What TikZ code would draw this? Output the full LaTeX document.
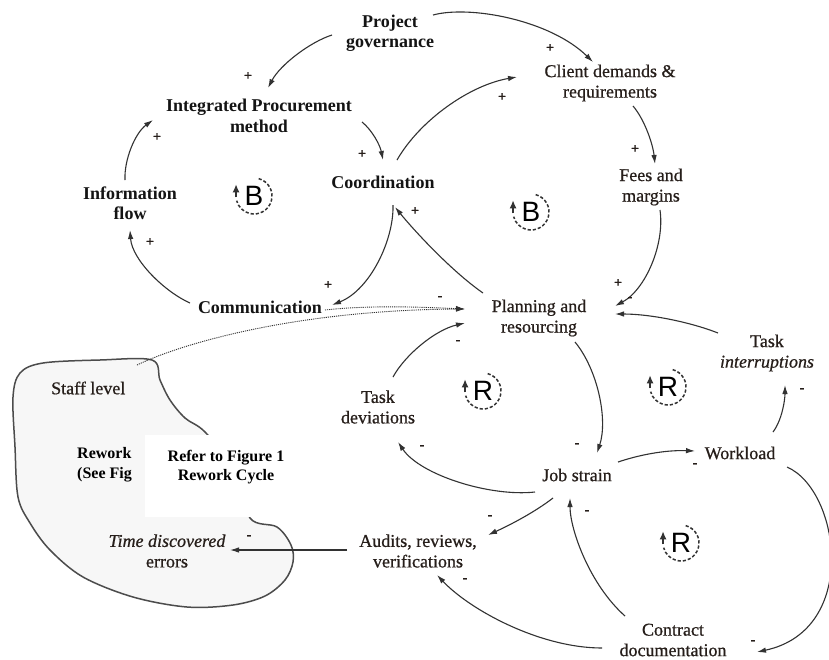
\documentclass[tikz,border=0pt]{standalone}
\usepackage{fontspec}
\setmainfont{Liberation Serif}
\newfontfamily\regfont{Liberation Serif}[FakeBold=0.7]
\newfontfamily\loopfont{Liberation Sans}
\usetikzlibrary{arrows.meta}
\definecolor{txt}{RGB}{38,30,26}
\definecolor{ln}{RGB}{50,50,50}
\begin{document}
\begin{tikzpicture}[x=1pt,y=1pt,
  lbl/.style={font=\regfont\fontsize{18}{20.5}\selectfont, text=txt, align=center, inner sep=1pt},
  blbl/.style={font=\fontsize{18}{20.5}\selectfont\bfseries, text=black!92, align=center, inner sep=1pt},
  sgn/.style={font=\regfont\fontsize{14}{14}\selectfont\bfseries, text=txt, inner sep=0pt},
  arr/.style={draw=ln, line width=1.1pt, -{Latex[length=9pt,width=5.5pt]}},
  dotarr/.style={arr, densely dotted, line width=0.9pt},
  loopl/.style={font=\loopfont\fontsize{28}{28}\selectfont, text=black, inner sep=0pt},
  loopc/.style={draw=ln, line width=1.5pt, dash pattern=on 3.2pt off 2pt},
  looparr/.style={draw=ln, line width=1.5pt, -{Latex[length=8pt,width=7pt]}},
]
\useasboundingbox (0,0) rectangle (829,-659);
\fill[white] (0,0) rectangle (829,-659);

% rework cloud
\draw[draw=black!70, line width=1.5pt, fill=black!3]
  plot[smooth cycle, tension=0.55] coordinates {
  (152,-360) (160,-380) (170,-400) (185,-418) (205,-432) (235,-470) (250,-518)
  (277,-527) (291,-545) (293,-562) (285,-580) (265,-596) (233,-605) (187,-607)
  (133,-597) (83,-577) (50,-550) (30,-523) (18,-497) (15,-447) (13,-397)
  (20,-373) (43,-363) (100,-360)};
\fill[white] (145,-435) rectangle (305,-517);
\node[font=\fontsize{16}{20}\selectfont\bfseries, align=left, anchor=west, inner sep=0pt] (rw) at (77,-465) {Rework\\(See Fig};
\node[font=\fontsize{16}{19}\selectfont\bfseries, align=center, inner sep=0pt] (ref) at (226,-467) {Refer to Figure 1\\Rework Cycle};

% nodes
\node[blbl] (pg) at (390,-33) {Project\\governance};
\node[blbl] (ipm) at (259,-116) {Integrated Procurement\\method};
\node[blbl] (inf) at (130,-203) {Information\\flow};
\node[blbl] (coo) at (383,-182) {Coordination};
\node[blbl] (com) at (260,-307) {Communication};
\node[lbl] (cdr) at (610,-83) {Client demands \&\\requirements};
\node[lbl] (fm) at (651,-187) {Fees and\\margins};
\node[lbl] (pr) at (539,-318) {Planning and\\resourcing};
\node[lbl] (ti) at (767,-353) {Task\\\textit{interruptions}};
\node[lbl] (td) at (378,-407) {Task\\deviations};
\node[lbl] (wl) at (740,-453) {Workload};
\node[lbl] (js) at (577,-475) {Job strain};
\node[lbl] (arv) at (418,-551) {Audits, reviews,\\verifications};
\node[lbl] (cd) at (673,-640) {Contract\\documentation};
\node[lbl] (tde) at (167,-551) {\textit{Time discovered}\\errors};
\node[lbl, anchor=west] (sl) at (50,-388) {Staff level};

% connectors
\draw[arr] ([shift={(-58,-2)}]pg.center) .. controls (310,-42) and (280,-65) .. ([shift={(9,28)}]ipm.center);
\draw[arr] ([shift={(43,18)}]pg.center) .. controls (470,-5) and (550,-20) .. ([shift={(-17,21)}]cdr.center);
\draw[arr] ([shift={(103,-6)}]ipm.center) .. controls (372,-130) and (380,-145) .. ([shift={(0,22)}]coo.center);
\draw[arr] ([shift={(-5,23)}]inf.center) .. controls (124,-160) and (135,-133) .. ([shift={(-106,-4)}]ipm.center);
\draw[arr] ([shift={(-70,4)}]com.center) .. controls (165,-292) and (132,-260) .. ([shift={(0,-27)}]inf.center);
\draw[arr] ([shift={(10,-23)}]coo.center) .. controls (394,-240) and (370,-290) .. ([shift={(72,2)}]com.center);
\draw[arr] ([shift={(14,22)}]coo.center) .. controls (420,-120) and (470,-85) .. ([shift={(-93,6)}]cdr.center);
\draw[arr] ([shift={(23,-23)}]cdr.center) .. controls (645,-120) and (653,-145) .. ([shift={(4,23)}]fm.center);
\draw[arr] ([shift={(9,-23)}]fm.center) .. controls (665,-245) and (645,-290) .. ([shift={(76,12)}]pr.center);
\draw[arr] ([shift={(-49,20)}]ti.center) .. controls (690,-322) and (650,-314) .. ([shift={(76,4)}]pr.center);
\draw[arr] ([shift={(-56,25)}]pr.center) .. controls (450,-270) and (412,-228) .. ([shift={(12,-25)}]coo.center);
\draw[dotarr] ([shift={(65,-3)}]com.center) .. controls (370,-305) and (420,-307) .. ([shift={(-74,9)}]pr.center);
\draw[dotarr] ([shift={(87,23)}]sl.west) .. controls (185,-342) and (300,-310) .. ([shift={(-74,9)}]pr.center);
\draw[arr] ([shift={(36,-24)}]pr.center) .. controls (598,-370) and (608,-420) .. ([shift={(20,22)}]js.center);
\draw[arr] ([shift={(-42,-17)}]js.center) .. controls (490,-497) and (420,-475) .. ([shift={(20,-35)}]td.center);
\draw[arr] ([shift={(15,30)}]td.center) .. controls (405,-355) and (435,-330) .. ([shift={(-74,-5)}]pr.center);
\draw[arr] ([shift={(41,13)}]js.center) .. controls (645,-453) and (670,-450) .. ([shift={(-45,2)}]wl.center);
\draw[arr] ([shift={(33,21)}]wl.center) .. controls (782,-420) and (785,-400) .. ([shift={(18,-32)}]ti.center);
\draw[arr] ([shift={(47,-14)}]wl.center) .. controls (840,-490) and (860,-630) .. ([shift={(84,-12)}]cd.center);
\draw[arr] ([shift={(-24,-23)}]js.center) .. controls (535,-512) and (510,-525) .. ([shift={(70,16)}]arv.center);
\draw[arr] ([shift={(-48,24)}]cd.center) .. controls (590,-585) and (570,-530) .. ([shift={(-7,-23)}]js.center);
\draw[arr] ([shift={(-71,-8)}]cd.center) .. controls (540,-648) and (470,-610) .. ([shift={(19,-24)}]arv.center);
\draw[arr] ([shift={(-71,1)}]arv.center) -- ([shift={(63,1)}]tde.center);

% polarity signs
\node[sgn] (p1) at (248,-76) {+};
\node[sgn] (p2) at (550,-48) {+};
\node[sgn] (p3) at (362,-154) {+};
\node[sgn] (p4) at (157,-137) {+};
\node[sgn] (p5) at (150,-242) {+};
\node[sgn] (p6) at (328,-285) {+};
\node[sgn] (p7) at (502,-97) {+};
\node[sgn] (p8) at (635,-149) {+};
\node[sgn] (p9) at (618,-283) {+};
\node[sgn] (p10) at (415,-211) {+};
\node[sgn] (m1) at (630,-299) {-};
\node[sgn] (m2) at (440,-298) {-};
\node[sgn] (m3) at (577,-445) {-};
\node[sgn] (m4) at (422,-447) {-};
\node[sgn] (m5) at (458,-342) {-};
\node[sgn] (m6) at (695,-465) {-};
\node[sgn] (m7) at (802,-390) {-};
\node[sgn] (m8) at (753,-642) {-};
\node[sgn] (m9) at (490,-517) {-};
\node[sgn] (m10) at (587,-512) {-};
\node[sgn] (m11) at (465,-580) {-};
\node[sgn] (m12) at (249,-537) {-};

% loop markers
\foreach \nm/\lt/\px/\py in {b1/B/254/196, b2/B/531/212, r1/R/483/391, r2/R/668/387, r3/R/681/543}{
  \node[loopl] (\nm) at (\px,-\py) {\lt};
  \draw[loopc] ([shift={(75:18pt)}]\nm.center) arc[start angle=75, end angle=-165, radius=18pt];
  \draw[looparr] ([shift={(-176:18pt)}]\nm.center) -- ++(0,13pt);
}
\end{tikzpicture}
\end{document}
